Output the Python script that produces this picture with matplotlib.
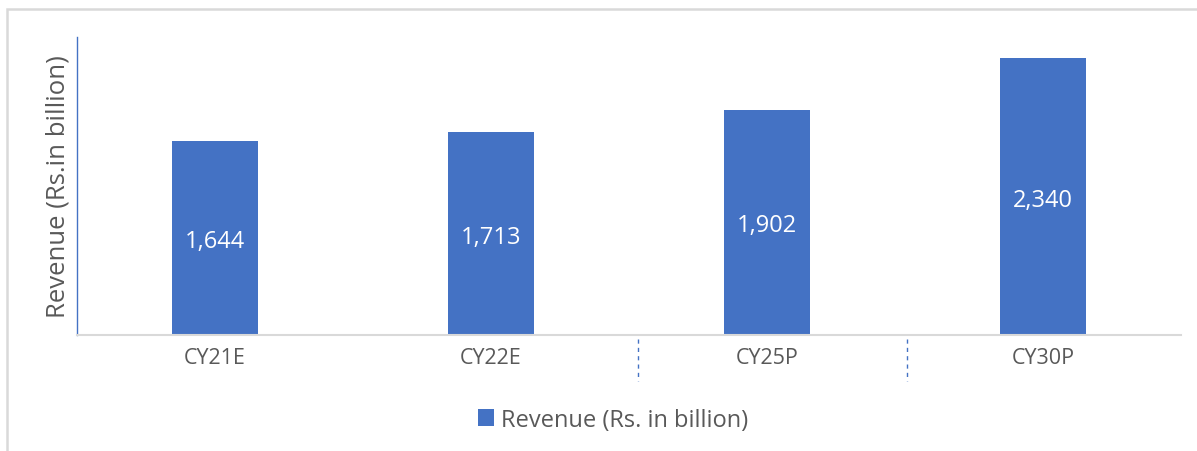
import matplotlib
matplotlib.use("Agg")
import matplotlib.pyplot as plt
from matplotlib.patches import Rectangle, Patch
import matplotlib.transforms as mtrans

categories = ["CY21E", "CY22E", "CY25P", "CY30P"]
revenue = [1644, 1713, 1902, 2340]
value_labels = ["1,644", "1,713", "1,902", "2,340"]
series_name = "Revenue (Rs. in billion)"
y_title = "Revenue (Rs.in billion)"

plt.rcParams['font.family'] = ['Open Sans', 'DejaVu Sans']
W, H = 1197, 452
fig = plt.figure(figsize=(W / 100, H / 100), dpi=100)
ax = fig.add_axes([77 / W, (H - 336) / H, (1181 - 77) / W, (336 - 38) / H])

bar_color = "#4472C4"
text_color = "#595959"
x = list(range(len(categories)))
bars = ax.bar(x, revenue, width=0.31, color=bar_color, zorder=2)
for xi, v, lab in zip(x, revenue, value_labels):
    ax.text(xi, v / 2 - 25, lab, ha="center", va="center", color="white", fontsize=17)

ax.set_xlim(-0.5, 3.5)
ax.set_ylim(0, 2520)
ax.set_xticks(x)
ax.set_xticklabels(categories, fontsize=15.5, color=text_color)
ax.tick_params(axis="x", length=0, pad=9)
ax.set_yticks([])
for s in ["top", "right"]:
    ax.spines[s].set_visible(False)
ax.spines["left"].set_color(bar_color)
ax.spines["left"].set_linewidth(1.0)
ax.spines["bottom"].set_color("#d9d9d9")
ax.spines["bottom"].set_linewidth(1.5)
ax.set_ylabel(y_title, fontsize=18.5, color=text_color, labelpad=5)

# dashed separators below axis
trans = mtrans.blended_transform_factory(ax.transData, ax.transAxes)
for sx in [1.533, 2.507]:
    ax.plot([sx, sx], [-0.013, -0.154], transform=trans, clip_on=False,
            color=bar_color, linestyle=(0, (3, 3)), linewidth=1.0)

# outer border
fig.patches.append(Rectangle((7 / W, -0.1), 1.2, (H - 10) / H + 0.1,
                             transform=fig.transFigure, fill=False,
                             edgecolor="#d9d9d9", linewidth=1.8))

fig.legend(handles=[Patch(facecolor=bar_color, label=series_name)],
           loc="center", bbox_to_anchor=(613 / W, (H - 421) / H),
           frameon=False, fontsize=17, labelcolor=text_color,
           handlelength=0.7, handleheight=0.7, handletextpad=0.3)

fig.savefig("out.png", dpi=100)
